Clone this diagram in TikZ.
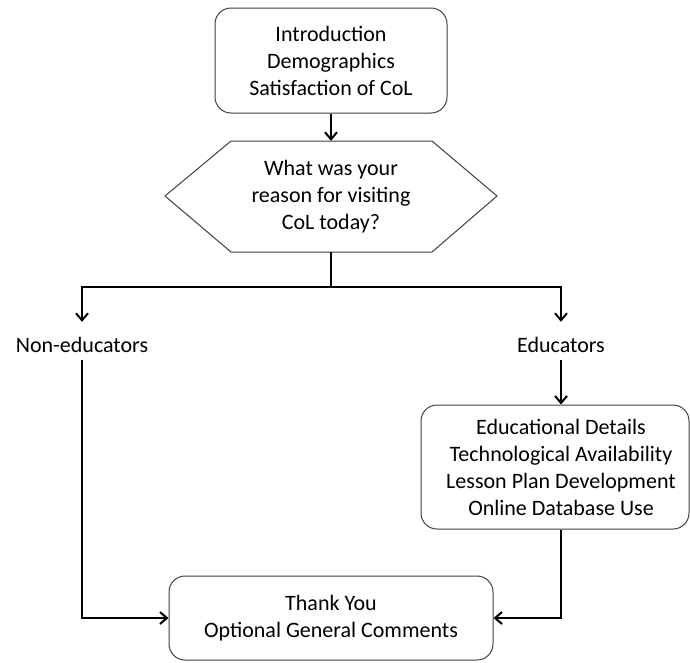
\documentclass[tikz,border=0pt]{standalone}
\usepackage{fontspec}
\setmainfont{Carlito}
\usetikzlibrary{arrows.meta,calc}
\begin{document}
\begin{tikzpicture}[x=1pt,y=-1pt,
  font=\fontsize{22}{27}\selectfont,
  boxframe/.style={draw=black!75,line width=1pt,rounded corners=16pt,align=center,inner sep=0pt},
  lbl/.style={inner xsep=2pt,inner ysep=8pt,text height=22pt,text depth=0pt,anchor=base},
  conn/.style={line width=2pt,black},
  arr/.style={conn,-{Straight Barb[length=7pt,width=12pt,line width=2pt]}}]
\useasboundingbox (0,0) rectangle (690,662);
\fill[white] (0,0) rectangle (690,662);
% top box
\node[boxframe,minimum width=232pt,minimum height=105pt] (top) at (331,60.5)
  {Introduction\\Demographics\\Satisfaction of CoL};
% hexagon
\draw[black!75,line width=1pt] (165,196) -- (231,141) -- (432,141) -- (497,196) -- (432,252) -- (231,252) -- cycle;
\node[align=center,inner sep=0pt,minimum width=332pt,minimum height=111pt] (hex) at (331,196.5)
  {What was your\\reason for visiting\\CoL today?};
% labels
\node[lbl] (noned) at (82,352) {Non-educators};
\node[lbl] (edu) at (561,352) {Educators};
% educator box
\node[boxframe,minimum width=268pt,minimum height=124pt] (edbox) at (555,467)
  {\hspace*{12pt}Educational Details\\\hspace*{12pt}Technological Availability\\\hspace*{12pt}Lesson Plan Development\\\hspace*{12pt}Online Database Use};
% thank box
\node[boxframe,minimum width=324pt,minimum height=84pt] (thank) at (331,618)
  {Thank You\\Optional General Comments};
\coordinate (split) at (331,287);
% connectors
\draw[arr] (top.south) -- (hex.north);
\draw[conn] (hex.south) -- (split);
\draw[arr] (split) -| (noned.north);
\draw[arr] (split) -| (edu.north);
\draw[arr] (edu.south) -- (edu.south |- edbox.north);
\draw[arr] (edu.south |- edbox.south) |- (thank.east);
\draw[arr] (noned.south) |- (thank.west);
\end{tikzpicture}
\end{document}
